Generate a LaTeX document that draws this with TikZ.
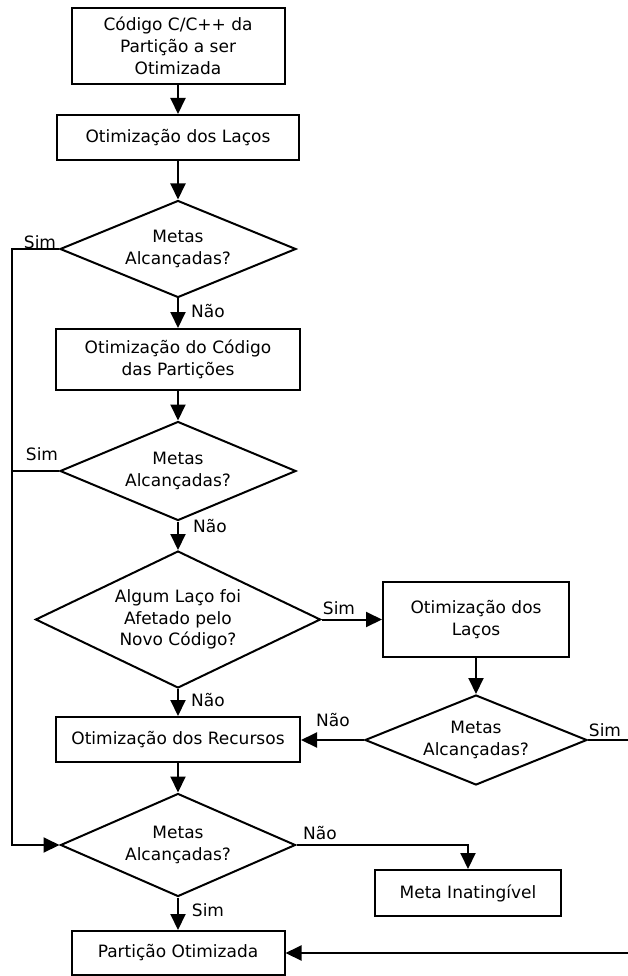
\documentclass[tikz,border=0pt]{standalone}
\usepackage{fontspec}
\setmainfont{DejaVu Sans}
\usetikzlibrary{shapes.geometric,arrows.meta}
\begin{document}
\begin{tikzpicture}[x=1pt,y=-1pt,line width=2pt,
  font=\fontsize{17}{21.7}\selectfont,
  box/.style={draw, rectangle, align=center, inner sep=0pt},
  dia/.style={draw, diamond, align=center, inner sep=0pt, shape aspect=2.4},
  arr/.style={-{Triangle[length=16pt,width=15pt]}},
  lbl/.style={inner sep=0pt}]
\useasboundingbox (0,0) rectangle (628,976);

% boxes
\node[box, minimum width=213pt, minimum height=76pt] (b1) at (178,46) {Código C/C++ da\\Partição a ser\\Otimizada};
\node[box, minimum width=242pt, minimum height=45pt] (b2) at (178,137.5) {Otimização dos Laços};
\node[box, minimum width=244pt, minimum height=61pt] (b3) at (178,359.5) {Otimização do Código\\das Partições};
\node[box, minimum width=186pt, minimum height=75pt] (b4) at (476,619.5) {Otimização dos\\Laços};
\node[box, minimum width=244pt, minimum height=45pt] (b5) at (178,739.5) {Otimização dos Recursos};
\node[box, minimum width=186pt, minimum height=46pt] (b7) at (468,893) {Meta Inatingível};
\node[box, minimum width=213pt, minimum height=44pt] (b6) at (178,953) {Partição Otimizada};

% diamonds
\node[dia, minimum width=236pt, minimum height=97pt] (d1) at (178,249) {Metas\\Alcançadas?};
\node[dia, minimum width=236pt, minimum height=99pt] (d2) at (178,471) {Metas\\Alcançadas?};
\node[dia, minimum width=285pt, minimum height=137pt, shape aspect=2.08] (d3) at (178,619.5) {Algum Laço foi\\Afetado pelo\\Novo Código?};
\node[dia, minimum width=222pt, minimum height=90pt, shape aspect=2.47] (d4) at (476,740) {Metas\\Alcançadas?};
\node[dia, minimum width=235pt, minimum height=103pt] (d5) at (178,845) {Metas\\Alcançadas?};

% helper coordinates
\coordinate (t1) at (12,249);
\coordinate (t2) at (12,471);
\coordinate (t5) at (12,845);
\coordinate (r1) at (640,740);
\coordinate (r2) at (640,953);

% connectors
\draw[arr] (b1) -- (b2);
\draw[arr] (b2) -- (d1);
\draw[arr] (d1) -- (b3);
\draw[arr] (b3) -- (d2);
\draw[arr] (d2) -- (d3);
\draw[arr] (d3.east) -- (b4.west |- d3.east);
\draw[arr] (b4) -- (d4);
\draw[arr] (d4.west) -- (b5.east |- d4.west);
\draw[arr] (d3) -- (b5);
\draw[arr] (b5) -- (d5);
\draw[arr] (d5) -- (b6);
\draw[arr] (d5.east) -| (b7.north);
\draw[arr] (d1.west) -- (t1) -- (t5) -- (d5.west);
\draw (d2.west) -- (t2);
\draw[arr] (d4.east) -- (r1) -- (r2) -- (b6.east |- r2);

% labels
\node[lbl] (l1) at (40,242) {Sim};
\node[lbl] (l2) at (208,311) {Não};
\node[lbl] (l3) at (42,454) {Sim};
\node[lbl] (l4) at (210,526) {Não};
\node[lbl] (l5) at (339,608) {Sim};
\node[lbl] (l6) at (208,700) {Não};
\node[lbl] (l7) at (333,720) {Não};
\node[lbl] (l8) at (605,730) {Sim};
\node[lbl] (l9) at (320,833) {Não};
\node[lbl] (l10) at (208,910) {Sim};
\end{tikzpicture}
\end{document}
